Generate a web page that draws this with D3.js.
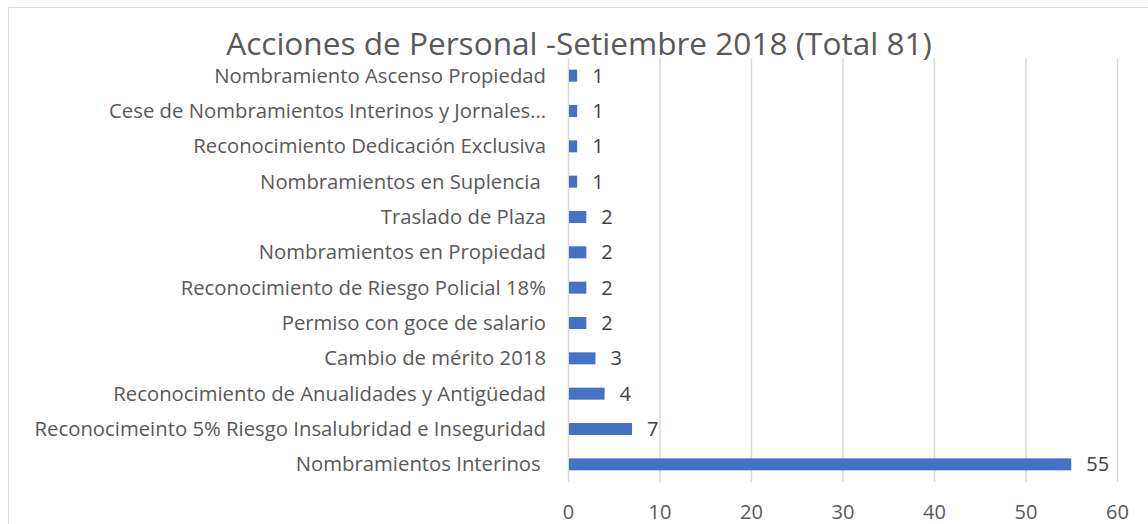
<!DOCTYPE html>
<html>
<head>
<meta charset="utf-8">
<script src="https://cdn.jsdelivr.net/npm/d3@7"></script>
<style>
    body { margin: 0; background: #fff; }
    svg { display: block; }
    text { font-family: "Open Sans", sans-serif; white-space: pre; }
</style>
</head>
<body>
<svg id="viz_bars"></svg>
<script>
var categories = [
    "Nombramiento Ascenso Propiedad",
    "Cese de Nombramientos Interinos y Jornales…",
    "Reconocimiento Dedicación Exclusiva",
    "Nombramientos en Suplencia ",
    "Traslado de Plaza",
    "Nombramientos en Propiedad",
    "Reconocimiento de Riesgo Policial 18%",
    "Permiso con goce de salario",
    "Cambio de mérito 2018",
    "Reconocimiento de Anualidades y Antigüedad",
    "Reconocimeinto 5% Riesgo Insalubridad e Inseguridad",
    "Nombramientos Interinos "
];
var values = [1, 1, 1, 1, 2, 2, 2, 2, 3, 4, 7, 55];
var x_ticks = [0, 10, 20, 30, 40, 50, 60];
var title = "Acciones de Personal -Setiembre 2018 (Total 81)";

var width = 1148,
    height = 524,
    plot = {"top": 58, "bottom": 482, "left": 568, "right": 1117},
    blue = "#4472C4",
    grid = "#d9d9d9",
    grey = "#595959";

var svg = d3.select("svg#viz_bars")
    .attr("width", width)
    .attr("height", height);

// outer chart border (only top and left edges fall inside the picture)
svg.append("path")
    .attr("d", "M8.5 " + height + " L8.5 7.5 L" + width + " 7.5")
    .attr("fill", "none")
    .attr("stroke", grid)
    .attr("stroke-width", 1);

var x = d3.scaleLinear()
    .domain([0, 60])
    .range([plot.left, plot.right]);

var y = d3.scaleBand()
    .domain(categories)
    .range([plot.top, plot.bottom])
    .paddingInner(0.66)
    .paddingOuter(0.33);

// size text so it fills a target width
function fit(sel, target) {
    var w = sel.node().getComputedTextLength();
    var fs = parseFloat(sel.style("font-size"));
    sel.style("font-size", (fs * target / w) + "px");
}

var grid_g = svg.append("g")
    .attr("transform", "translate(0," + plot.bottom + ")")
    .call(d3.axisBottom(x)
        .tickValues(x_ticks)
        .tickSize(-(plot.bottom - plot.top))
        .tickFormat(""));
grid_g.select(".domain").remove();
grid_g.selectAll("line")
    .attr("stroke", grid)
    .attr("stroke-width", 1.5);

var tick_g = svg.append("g")
    .attr("transform", "translate(0," + (plot.bottom + 30) + ")")
    .call(d3.axisBottom(x)
        .tickValues(x_ticks)
        .tickSize(0)
        .tickPadding(0));
tick_g.select(".domain").remove();
tick_g.selectAll("text")
    .attr("dy", "0.35em")
    .style("font-family", "'Open Sans', sans-serif")
    .style("font-size", "20px")
    .attr("fill", grey);

svg.selectAll("rect.bar")
    .data(values)
    .enter()
    .append("rect")
        .attr("class", "bar")
        .attr("x", x(0) + 1)
        .attr("y", function(d, i) { return y(categories[i]); })
        .attr("width", function(d) { return x(d) - x(0) - 1; })
        .attr("height", y.bandwidth())
        .attr("fill", blue);

svg.selectAll("text.value")
    .data(values)
    .enter()
    .append("text")
        .attr("class", "value")
        .attr("x", function(d) { return x(d) + 15; })
        .attr("y", function(d, i) { return y(categories[i]) + y.bandwidth() / 2; })
        .attr("dy", "0.35em")
        .style("font-size", "20px")
        .attr("fill", "#404040")
        .text(function(d) { return d; });

var labels = svg.selectAll("text.cat")
    .data(categories)
    .enter()
    .append("text")
        .attr("class", "cat")
        .attr("x", plot.left - 22)
        .attr("y", function(d) { return y(d) + y.bandwidth() / 2; })
        .attr("dy", "0.35em")
        .attr("text-anchor", "end")
        .style("font-size", "18px")
        .attr("fill", grey)
        .text(function(d) { return d; });

// size category labels from the longest one
var longest = labels.filter(function(d) { return d.indexOf("Reconocimeinto") === 0; });
fit(longest, 512);
labels.style("font-size", longest.style("font-size"));

var title_t = svg.append("text")
    .attr("x", 579)
    .attr("y", 55)
    .attr("text-anchor", "middle")
    .style("font-size", "28px")
    .attr("fill", grey)
    .text(title);
fit(title_t, 706);
</script>
</body>
</html>
